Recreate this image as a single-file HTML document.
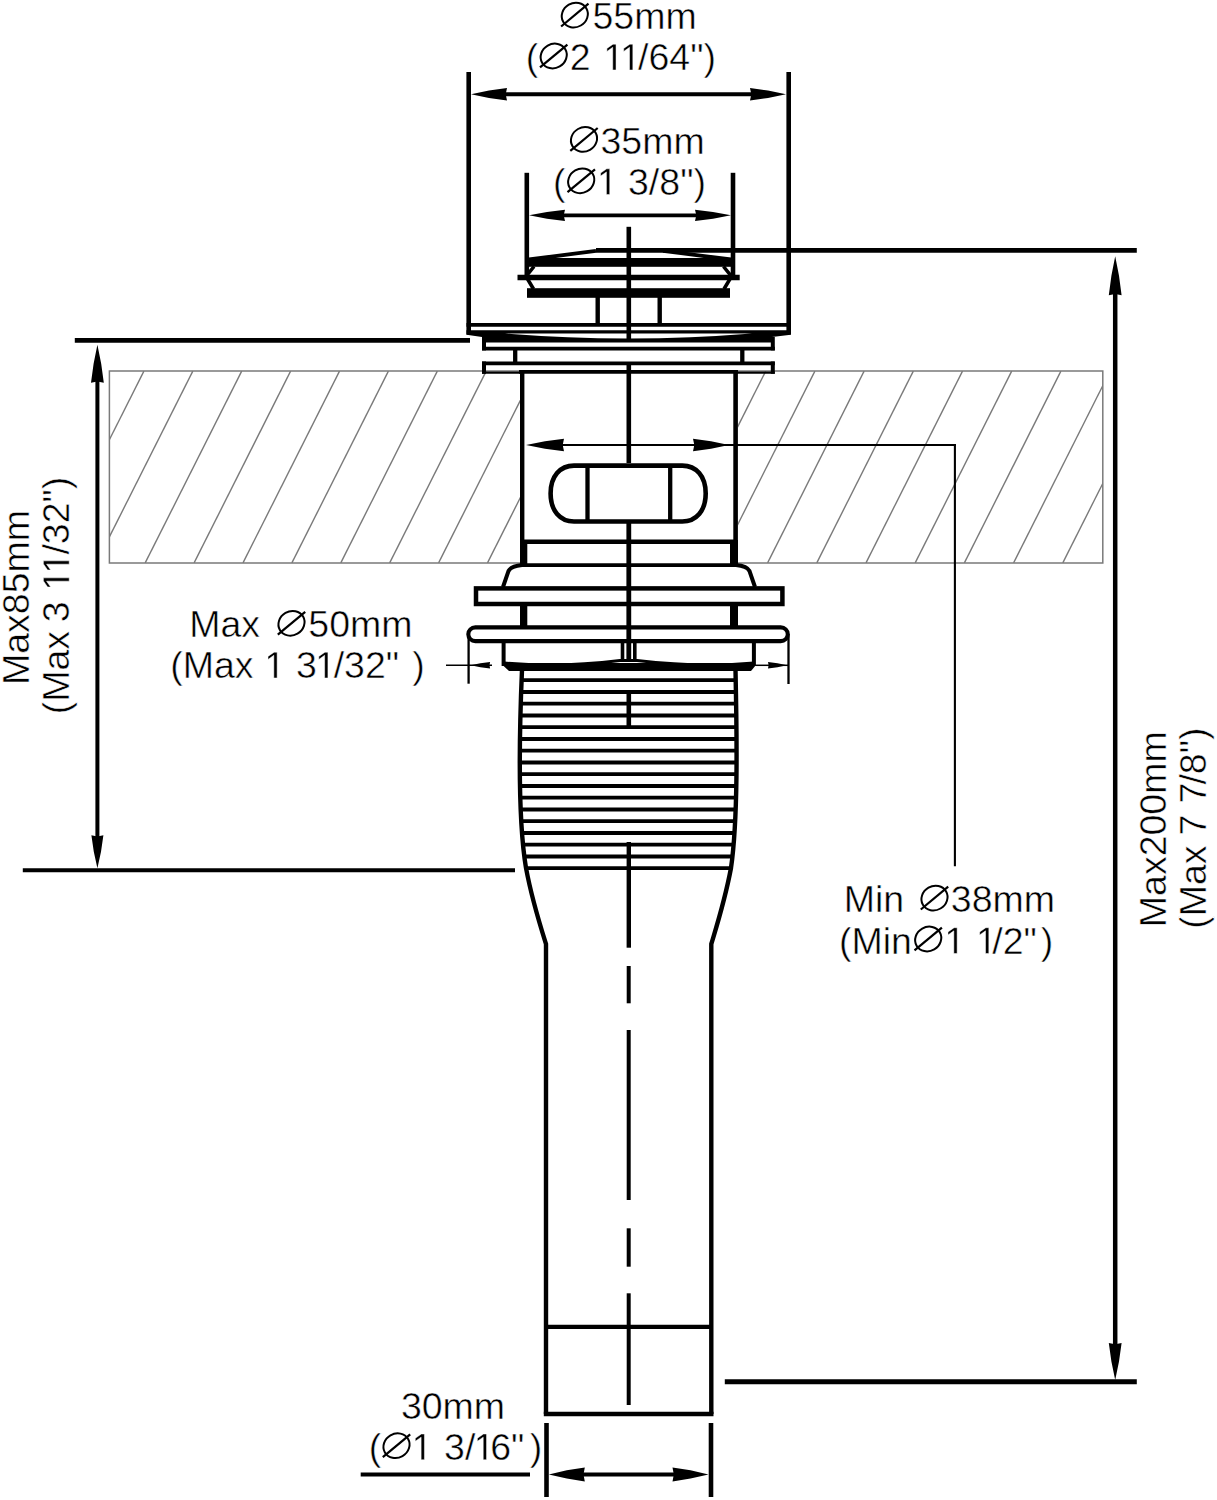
<!DOCTYPE html>
<html><head><meta charset="utf-8"><style>
html,body{margin:0;padding:0;background:#fff;}
svg{display:block;}
text{font-family:"Liberation Sans",sans-serif;fill:#000;stroke:#fff;stroke-width:0.5px;}
</style></head><body>
<svg width="1217" height="1500" viewBox="0 0 1217 1500">
<rect width="1217" height="1500" fill="#fff"/>
<g>
<clipPath id="cl"><rect x="109.4" y="371.1" width="410.6" height="191.79999999999995"/></clipPath>
<clipPath id="cr"><rect x="738" y="371.1" width="364.79999999999995" height="191.79999999999995"/></clipPath>
<g clip-path="url(#cl)"><line x1="-2.8" y1="371.1" x2="-99.3" y2="562.9" stroke="#7a7a7a" stroke-width="1.4"/><line x1="46.1" y1="371.1" x2="-50.4" y2="562.9" stroke="#7a7a7a" stroke-width="1.4"/><line x1="95.0" y1="371.1" x2="-1.5" y2="562.9" stroke="#7a7a7a" stroke-width="1.4"/><line x1="143.9" y1="371.1" x2="47.4" y2="562.9" stroke="#7a7a7a" stroke-width="1.4"/><line x1="192.8" y1="371.1" x2="96.3" y2="562.9" stroke="#7a7a7a" stroke-width="1.4"/><line x1="241.7" y1="371.1" x2="145.2" y2="562.9" stroke="#7a7a7a" stroke-width="1.4"/><line x1="290.6" y1="371.1" x2="194.1" y2="562.9" stroke="#7a7a7a" stroke-width="1.4"/><line x1="339.5" y1="371.1" x2="243.0" y2="562.9" stroke="#7a7a7a" stroke-width="1.4"/><line x1="388.4" y1="371.1" x2="291.9" y2="562.9" stroke="#7a7a7a" stroke-width="1.4"/><line x1="437.3" y1="371.1" x2="340.8" y2="562.9" stroke="#7a7a7a" stroke-width="1.4"/><line x1="486.2" y1="371.1" x2="389.7" y2="562.9" stroke="#7a7a7a" stroke-width="1.4"/><line x1="535.1" y1="371.1" x2="438.6" y2="562.9" stroke="#7a7a7a" stroke-width="1.4"/><line x1="584.0" y1="371.1" x2="487.5" y2="562.9" stroke="#7a7a7a" stroke-width="1.4"/><line x1="632.9" y1="371.1" x2="536.4" y2="562.9" stroke="#7a7a7a" stroke-width="1.4"/><line x1="681.8" y1="371.1" x2="585.3" y2="562.9" stroke="#7a7a7a" stroke-width="1.4"/></g><g clip-path="url(#cr)"><line x1="667.3" y1="371.1" x2="570.8" y2="562.9" stroke="#7a7a7a" stroke-width="1.4"/><line x1="716.5" y1="371.1" x2="620.0" y2="562.9" stroke="#7a7a7a" stroke-width="1.4"/><line x1="765.7" y1="371.1" x2="669.2" y2="562.9" stroke="#7a7a7a" stroke-width="1.4"/><line x1="814.9" y1="371.1" x2="718.4" y2="562.9" stroke="#7a7a7a" stroke-width="1.4"/><line x1="864.1" y1="371.1" x2="767.6" y2="562.9" stroke="#7a7a7a" stroke-width="1.4"/><line x1="913.3" y1="371.1" x2="816.8" y2="562.9" stroke="#7a7a7a" stroke-width="1.4"/><line x1="962.5" y1="371.1" x2="866.0" y2="562.9" stroke="#7a7a7a" stroke-width="1.4"/><line x1="1011.7" y1="371.1" x2="915.2" y2="562.9" stroke="#7a7a7a" stroke-width="1.4"/><line x1="1060.9" y1="371.1" x2="964.4" y2="562.9" stroke="#7a7a7a" stroke-width="1.4"/><line x1="1110.1" y1="371.1" x2="1013.6" y2="562.9" stroke="#7a7a7a" stroke-width="1.4"/><line x1="1159.3" y1="371.1" x2="1062.8" y2="562.9" stroke="#7a7a7a" stroke-width="1.4"/><line x1="1208.5" y1="371.1" x2="1112.0" y2="562.9" stroke="#7a7a7a" stroke-width="1.4"/></g>
<path d="M520,371.1 H109.4 V562.9 H520" stroke="#7a7a7a" stroke-width="1.5" fill="none" />
<path d="M738,371.1 H1102.8 V562.9 H738" stroke="#7a7a7a" stroke-width="1.5" fill="none" />
</g>
<line x1="468.7" y1="72.0" x2="468.7" y2="334.5" stroke="#000" stroke-width="4.6" stroke-linecap="butt"/>
<line x1="788.7" y1="72.0" x2="788.7" y2="334.5" stroke="#000" stroke-width="4.6" stroke-linecap="butt"/>
<line x1="491.0" y1="94.3" x2="766.0" y2="94.3" stroke="#000" stroke-width="4" stroke-linecap="butt"/>
<polygon points="471.0,94.3 489.0,90.6 507.0,88.1 505.7,94.3 507.0,100.5 489.0,98.0" fill="#000"/>
<polygon points="786.0,94.3 768.0,90.6 750.0,88.1 751.3,94.3 750.0,100.5 768.0,98.0" fill="#000"/>
<line x1="526.8" y1="172.8" x2="526.8" y2="276.0" stroke="#000" stroke-width="4.6" stroke-linecap="butt"/>
<line x1="733.0" y1="172.8" x2="733.0" y2="276.0" stroke="#000" stroke-width="4.6" stroke-linecap="butt"/>
<line x1="549.0" y1="215.3" x2="711.0" y2="215.3" stroke="#000" stroke-width="3.8" stroke-linecap="butt"/>
<polygon points="529.0,215.3 547.0,211.9 565.0,209.7 563.7,215.3 565.0,220.9 547.0,218.7" fill="#000"/>
<polygon points="731.0,215.3 713.0,211.9 695.0,209.7 696.3,215.3 695.0,220.9 713.0,218.7" fill="#000"/>
<line x1="596.0" y1="250.4" x2="1136.8" y2="250.4" stroke="#000" stroke-width="4.6" stroke-linecap="butt"/>
<line x1="724.8" y1="1381.8" x2="1136.8" y2="1381.8" stroke="#000" stroke-width="5" stroke-linecap="butt"/>
<line x1="1115.2" y1="276.0" x2="1115.2" y2="1360.0" stroke="#000" stroke-width="4.5" stroke-linecap="butt"/>
<polygon points="1115.2,256.3 1111.4,275.8 1108.8,295.3 1115.2,294.0 1121.6,295.3 1119.0,275.8" fill="#000"/>
<polygon points="1115.2,1380.0 1111.4,1361.5 1108.8,1343.0 1115.2,1344.3 1121.6,1343.0 1119.0,1361.5" fill="#000"/>
<line x1="74.8" y1="340.4" x2="470.0" y2="340.4" stroke="#000" stroke-width="4.6" stroke-linecap="butt"/>
<line x1="22.8" y1="870.3" x2="515.0" y2="870.3" stroke="#000" stroke-width="4" stroke-linecap="butt"/>
<line x1="97.4" y1="364.0" x2="97.4" y2="850.0" stroke="#000" stroke-width="4" stroke-linecap="butt"/>
<polygon points="97.4,344.7 93.6,363.7 91.0,382.7 97.4,381.4 103.8,382.7 101.2,363.7" fill="#000"/>
<polygon points="97.4,868.3 93.8,851.8 91.4,835.3 97.4,836.6 103.4,835.3 101.0,851.8" fill="#000"/>
<path d="M529,259.5 L596,250.8" stroke="#000" stroke-width="3.8" fill="none" />
<path d="M663,250.8 L731,259.5" stroke="#000" stroke-width="3.8" fill="none" />
<rect x="529.0" y="258.0" width="202.0" height="8.8" fill="#000"/>
<line x1="517.5" y1="277.5" x2="739.7" y2="277.5" stroke="#000" stroke-width="5.4" stroke-linecap="butt"/>
<path d="M534,266.5 L526,276.5 L533.5,289" stroke="#000" stroke-width="3.6" fill="none" />
<path d="M723.5,266.5 L731.5,276.5 L724,289" stroke="#000" stroke-width="3.6" fill="none" />
<rect x="527.0" y="288.2" width="203.0" height="9.6" fill="#000"/>
<line x1="597.7" y1="297.0" x2="597.7" y2="324.0" stroke="#000" stroke-width="4.4" stroke-linecap="butt"/>
<line x1="659.7" y1="297.0" x2="659.7" y2="324.0" stroke="#000" stroke-width="4.4" stroke-linecap="butt"/>
<line x1="466.5" y1="324.8" x2="790.8" y2="324.8" stroke="#000" stroke-width="3.7" stroke-linecap="butt"/>
<polygon points="466.5,330.3 790.8,330.3 790.8,334.8 772.0,337.0 772.0,342.6 482.0,342.6 482.0,337.0 466.5,334.8" fill="#000"/>
<path d="M505,333.6 L752,333.6 Q628,343.5 505,333.6 Z" stroke="#000" stroke-width="0" fill="#fff" />
<line x1="484.0" y1="337.0" x2="484.0" y2="350.4" stroke="#000" stroke-width="4" stroke-linecap="butt"/>
<line x1="772.8" y1="337.0" x2="772.8" y2="350.4" stroke="#000" stroke-width="4" stroke-linecap="butt"/>
<line x1="482.0" y1="348.6" x2="774.8" y2="348.6" stroke="#000" stroke-width="3.7" stroke-linecap="butt"/>
<line x1="515.2" y1="350.0" x2="515.2" y2="362.0" stroke="#000" stroke-width="4.3" stroke-linecap="butt"/>
<line x1="742.3" y1="350.0" x2="742.3" y2="362.0" stroke="#000" stroke-width="4.3" stroke-linecap="butt"/>
<line x1="482.0" y1="363.4" x2="774.8" y2="363.4" stroke="#000" stroke-width="3.7" stroke-linecap="butt"/>
<line x1="484.0" y1="361.5" x2="484.0" y2="373.8" stroke="#000" stroke-width="4" stroke-linecap="butt"/>
<line x1="772.8" y1="361.5" x2="772.8" y2="373.8" stroke="#000" stroke-width="4" stroke-linecap="butt"/>
<line x1="482.0" y1="372.6" x2="520.0" y2="372.6" stroke="#000" stroke-width="2.2" stroke-linecap="butt"/>
<line x1="736.0" y1="372.6" x2="774.8" y2="372.6" stroke="#000" stroke-width="2.2" stroke-linecap="butt"/>
<line x1="519.0" y1="371.9" x2="738.0" y2="371.9" stroke="#000" stroke-width="3.8" stroke-linecap="butt"/>
<line x1="522.2" y1="370.0" x2="522.2" y2="544.0" stroke="#000" stroke-width="4.4" stroke-linecap="butt"/>
<line x1="735.6" y1="370.0" x2="735.6" y2="544.0" stroke="#000" stroke-width="4.6" stroke-linecap="butt"/>
<rect x="520.0" y="540.0" width="7.3" height="25.0" fill="#000"/>
<rect x="730.0" y="540.0" width="8.0" height="25.0" fill="#000"/>
<line x1="546.0" y1="445.0" x2="955.9" y2="445.0" stroke="#000" stroke-width="2" stroke-linecap="butt"/>
<polygon points="526.0,445.0 545.0,441.3 564.0,438.8 562.7,445.0 564.0,451.2 545.0,448.7" fill="#000"/>
<polygon points="729.0,445.0 711.0,441.3 693.0,438.8 694.3,445.0 693.0,451.2 711.0,448.7" fill="#000"/>
<line x1="954.9" y1="444.0" x2="954.9" y2="866.2" stroke="#000" stroke-width="2.1" stroke-linecap="butt"/>
<path d="M574,465.6 H682.3 C696.2,465.6 705.7,476.2 705.7,493.5 C705.7,510.8 696.2,521.5 682.3,521.5 H574 C560.1,521.5 550.6,510.8 550.6,493.5 C550.6,476.2 560.1,465.6 574,465.6 Z" stroke="#000" stroke-width="4.6" fill="none" />
<line x1="587.5" y1="465.0" x2="587.5" y2="521.0" stroke="#000" stroke-width="4.3" stroke-linecap="butt"/>
<line x1="670.2" y1="465.0" x2="670.2" y2="521.0" stroke="#000" stroke-width="4.3" stroke-linecap="butt"/>
<line x1="522.0" y1="541.8" x2="735.6" y2="541.8" stroke="#000" stroke-width="4.4" stroke-linecap="butt"/>
<line x1="520.0" y1="565.1" x2="738.0" y2="565.1" stroke="#000" stroke-width="3.7" stroke-linecap="butt"/>
<path d="M522,565 Q511,566 508.5,571 L503,587" stroke="#000" stroke-width="4" fill="none" />
<path d="M736,565 Q747,566 749.5,571 L755,587" stroke="#000" stroke-width="4" fill="none" />
<rect x="476" y="588.4" width="306.4" height="15.6" fill="none" stroke="#000" stroke-width="4.5"/>
<rect x="520.0" y="606.0" width="7.3" height="21.0" fill="#000"/>
<rect x="730.0" y="606.0" width="8.0" height="21.0" fill="#000"/>
<rect x="468.3" y="627.4" width="319.5" height="13.7" rx="7" ry="6.8" fill="none" stroke="#000" stroke-width="4.1"/>
<line x1="468.6" y1="634.0" x2="468.6" y2="683.7" stroke="#000" stroke-width="2.3" stroke-linecap="butt"/>
<line x1="788.5" y1="634.0" x2="788.5" y2="684.0" stroke="#000" stroke-width="2.3" stroke-linecap="butt"/>
<line x1="446.0" y1="665.3" x2="492.0" y2="665.3" stroke="#000" stroke-width="1.5" stroke-linecap="butt"/>
<line x1="756.0" y1="665.3" x2="788.0" y2="665.3" stroke="#000" stroke-width="1.5" stroke-linecap="butt"/>
<polygon points="470.7,665.3 480.4,663.3 490.1,662.0 489.5,665.3 490.1,668.6 480.4,667.3" fill="#000"/>
<polygon points="787.0,665.3 777.5,663.3 768.0,662.0 768.6,665.3 768.0,668.6 777.5,667.3" fill="#000"/>
<line x1="503.6" y1="642.0" x2="503.6" y2="666.0" stroke="#000" stroke-width="4" stroke-linecap="butt"/>
<line x1="753.9" y1="642.0" x2="753.9" y2="666.0" stroke="#000" stroke-width="4" stroke-linecap="butt"/>
<path d="M504,663 Q560,668 620,660.5 L637,660.5 Q700,668 754,663" stroke="#000" stroke-width="3" fill="none" />
<polygon points="503.6,663.0 754.0,663.0 756.0,665.0 751.0,671.0 509.0,671.0 503.6,666.0" fill="#000"/>
<line x1="622.5" y1="642.0" x2="622.5" y2="662.0" stroke="#000" stroke-width="3.6" stroke-linecap="butt"/>
<line x1="634.8" y1="642.0" x2="634.8" y2="662.0" stroke="#000" stroke-width="3.6" stroke-linecap="butt"/>
<line x1="628.8" y1="226.8" x2="628.8" y2="339.5" stroke="#000" stroke-width="4.6" stroke-linecap="butt"/>
<line x1="628.8" y1="362.0" x2="628.8" y2="463.0" stroke="#000" stroke-width="4.6" stroke-linecap="butt"/>
<line x1="628.8" y1="521.5" x2="628.8" y2="662.0" stroke="#000" stroke-width="4.8" stroke-linecap="butt"/>
<line x1="628.8" y1="690.0" x2="628.8" y2="726.7" stroke="#000" stroke-width="4.6" stroke-linecap="butt"/>
<line x1="628.8" y1="842.0" x2="628.8" y2="947.7" stroke="#000" stroke-width="4.4" stroke-linecap="butt"/>
<line x1="628.7" y1="966.0" x2="628.7" y2="1003.3" stroke="#000" stroke-width="4" stroke-linecap="butt"/>
<line x1="628.7" y1="1030.0" x2="628.7" y2="1200.0" stroke="#000" stroke-width="4" stroke-linecap="butt"/>
<line x1="628.7" y1="1228.3" x2="628.7" y2="1266.7" stroke="#000" stroke-width="4" stroke-linecap="butt"/>
<line x1="628.7" y1="1293.3" x2="628.7" y2="1405.0" stroke="#000" stroke-width="4" stroke-linecap="butt"/>
<path d="M522,670 C519,740 518,820 526,868 C532,900 540,925 546,944 L546,1414" stroke="#000" stroke-width="4.4" fill="none" />
<path d="M735.5,670 C737,740 738,820 731,868 C725,900 717,925 711.3,944 L711.3,1414" stroke="#000" stroke-width="4.4" fill="none" />
<line x1="521.6" y1="680.2" x2="735.7" y2="680.2" stroke="#000" stroke-width="3.8" stroke-linecap="butt"/>
<line x1="521.1" y1="692.0" x2="735.9" y2="692.0" stroke="#000" stroke-width="3.8" stroke-linecap="butt"/>
<line x1="520.7" y1="703.7" x2="736.2" y2="703.7" stroke="#000" stroke-width="3.8" stroke-linecap="butt"/>
<line x1="520.4" y1="715.5" x2="736.3" y2="715.5" stroke="#000" stroke-width="3.8" stroke-linecap="butt"/>
<line x1="520.2" y1="727.2" x2="736.4" y2="727.2" stroke="#000" stroke-width="3.8" stroke-linecap="butt"/>
<line x1="520.0" y1="739.0" x2="736.5" y2="739.0" stroke="#000" stroke-width="3.8" stroke-linecap="butt"/>
<line x1="519.8" y1="750.7" x2="736.6" y2="750.7" stroke="#000" stroke-width="3.8" stroke-linecap="butt"/>
<line x1="519.8" y1="762.5" x2="736.6" y2="762.5" stroke="#000" stroke-width="3.8" stroke-linecap="butt"/>
<line x1="519.8" y1="774.2" x2="736.5" y2="774.2" stroke="#000" stroke-width="3.8" stroke-linecap="butt"/>
<line x1="520.0" y1="786.0" x2="736.3" y2="786.0" stroke="#000" stroke-width="3.8" stroke-linecap="butt"/>
<line x1="520.3" y1="797.7" x2="736.0" y2="797.7" stroke="#000" stroke-width="3.8" stroke-linecap="butt"/>
<line x1="520.7" y1="809.5" x2="735.7" y2="809.5" stroke="#000" stroke-width="3.8" stroke-linecap="butt"/>
<line x1="521.2" y1="821.2" x2="735.2" y2="821.2" stroke="#000" stroke-width="3.8" stroke-linecap="butt"/>
<line x1="522.0" y1="833.0" x2="734.5" y2="833.0" stroke="#000" stroke-width="3.8" stroke-linecap="butt"/>
<line x1="523.0" y1="844.7" x2="733.6" y2="844.7" stroke="#000" stroke-width="3.8" stroke-linecap="butt"/>
<line x1="524.3" y1="856.5" x2="732.4" y2="856.5" stroke="#000" stroke-width="3.8" stroke-linecap="butt"/>
<line x1="526.0" y1="868.2" x2="731.0" y2="868.2" stroke="#000" stroke-width="3.8" stroke-linecap="butt"/>
<line x1="546.0" y1="1326.8" x2="711.3" y2="1326.8" stroke="#000" stroke-width="4.2" stroke-linecap="butt"/>
<line x1="543.8" y1="1414.0" x2="713.5" y2="1414.0" stroke="#000" stroke-width="4.6" stroke-linecap="butt"/>
<line x1="546.5" y1="1423.0" x2="546.5" y2="1497.0" stroke="#000" stroke-width="4.6" stroke-linecap="butt"/>
<line x1="711.0" y1="1423.0" x2="711.0" y2="1497.0" stroke="#000" stroke-width="4.6" stroke-linecap="butt"/>
<line x1="360.7" y1="1474.4" x2="530.0" y2="1474.4" stroke="#000" stroke-width="4" stroke-linecap="butt"/>
<line x1="568.0" y1="1474.4" x2="690.0" y2="1474.4" stroke="#000" stroke-width="4" stroke-linecap="butt"/>
<polygon points="548.8,1474.4 566.8,1470.2 584.8,1467.4 583.5,1474.4 584.8,1481.4 566.8,1478.6" fill="#000"/>
<polygon points="708.5,1474.4 690.5,1470.2 672.5,1467.4 673.8,1474.4 672.5,1481.4 690.5,1478.6" fill="#000"/>
<ellipse cx="574.8" cy="15.1" rx="13.4" ry="12.0" transform="rotate(-30 574.8 15.1)" fill="none" stroke="#000" stroke-width="2.0"/>
<line x1="561.1" y1="26.5" x2="588.5" y2="3.7" stroke="#000" stroke-width="2.2" stroke-linecap="butt"/>
<ellipse cx="553.7" cy="56.0" rx="13.4" ry="12.0" transform="rotate(-30 553.7 56.0)" fill="none" stroke="#000" stroke-width="2.0"/>
<line x1="540.0" y1="67.4" x2="567.4" y2="44.6" stroke="#000" stroke-width="2.2" stroke-linecap="butt"/>
<ellipse cx="584.0" cy="139.4" rx="13.4" ry="12.0" transform="rotate(-30 584.0 139.4)" fill="none" stroke="#000" stroke-width="2.0"/>
<line x1="570.3" y1="150.8" x2="597.7" y2="128.0" stroke="#000" stroke-width="2.2" stroke-linecap="butt"/>
<ellipse cx="581.2" cy="180.8" rx="13.4" ry="12.0" transform="rotate(-30 581.2 180.8)" fill="none" stroke="#000" stroke-width="2.0"/>
<line x1="567.5" y1="192.2" x2="595.0" y2="169.3" stroke="#000" stroke-width="2.2" stroke-linecap="butt"/>
<ellipse cx="291.5" cy="623.3" rx="13.4" ry="12.0" transform="rotate(-30 291.5 623.3)" fill="none" stroke="#000" stroke-width="2.0"/>
<line x1="277.8" y1="634.7" x2="305.2" y2="611.9" stroke="#000" stroke-width="2.2" stroke-linecap="butt"/>
<ellipse cx="934.5" cy="898.1" rx="13.4" ry="12.0" transform="rotate(-30 934.5 898.1)" fill="none" stroke="#000" stroke-width="2.0"/>
<line x1="920.8" y1="909.5" x2="948.2" y2="886.7" stroke="#000" stroke-width="2.2" stroke-linecap="butt"/>
<ellipse cx="928.2" cy="939.0" rx="13.4" ry="12.0" transform="rotate(-30 928.2 939.0)" fill="none" stroke="#000" stroke-width="2.0"/>
<line x1="914.5" y1="950.4" x2="941.9" y2="927.6" stroke="#000" stroke-width="2.2" stroke-linecap="butt"/>
<ellipse cx="396.5" cy="1445.7" rx="13.4" ry="12.0" transform="rotate(-30 396.5 1445.7)" fill="none" stroke="#000" stroke-width="2.0"/>
<line x1="382.8" y1="1457.1" x2="410.2" y2="1434.3" stroke="#000" stroke-width="2.2" stroke-linecap="butt"/>
<text x="592.50" y="29.00" font-size="37.5">55mm</text>
<text x="525.75" y="70.00" font-size="37.5">(</text>
<text x="569.80" y="70.00" font-size="37.5">2</text>
<path d="M515,0L515,1237L197,1010L197,1180L530,1409L696,1409L696,0Z" transform="translate(603.29 70.00) scale(0.01831 -0.01831)" fill="#000" stroke="#fff" stroke-width="0.5" vector-effect="non-scaling-stroke"/>
<path d="M515,0L515,1237L197,1010L197,1180L530,1409L696,1409L696,0Z" transform="translate(620.09 70.00) scale(0.01831 -0.01831)" fill="#000" stroke="#fff" stroke-width="0.5" vector-effect="non-scaling-stroke"/>
<text x="638.00" y="70.00" font-size="37.5">/64&quot;)</text>
<text x="600.50" y="154.00" font-size="37.5">35mm</text>
<text x="553.05" y="194.60" font-size="37.5">(</text>
<path d="M515,0L515,1237L197,1010L197,1180L530,1409L696,1409L696,0Z" transform="translate(596.99 194.60) scale(0.01831 -0.01831)" fill="#000" stroke="#fff" stroke-width="0.5" vector-effect="non-scaling-stroke"/>
<text x="628.00" y="194.60" font-size="37.5">3/8&quot;)</text>
<text x="189.20" y="637.30" font-size="37.5">Max</text>
<text x="308.30" y="637.30" font-size="37.5">50mm</text>
<text x="170.25" y="678.00" font-size="37.5">(Max</text>
<path d="M515,0L515,1237L197,1010L197,1180L530,1409L696,1409L696,0Z" transform="translate(264.39 678.00) scale(0.01831 -0.01831)" fill="#000" stroke="#fff" stroke-width="0.5" vector-effect="non-scaling-stroke"/>
<text x="296.00" y="678.00" font-size="37.5">3</text>
<path d="M515,0L515,1237L197,1010L197,1180L530,1409L696,1409L696,0Z" transform="translate(315.19 678.00) scale(0.01831 -0.01831)" fill="#000" stroke="#fff" stroke-width="0.5" vector-effect="non-scaling-stroke"/>
<text x="333.70" y="678.00" font-size="37.5">/32&quot;</text>
<text x="412.35" y="678.00" font-size="37.5">)</text>
<text x="843.80" y="912.00" font-size="37.5">Min</text>
<text x="950.80" y="912.00" font-size="37.5">38mm</text>
<text x="839.05" y="953.50" font-size="37.5">(Min</text>
<path d="M515,0L515,1237L197,1010L197,1180L530,1409L696,1409L696,0Z" transform="translate(944.39 953.50) scale(0.01831 -0.01831)" fill="#000" stroke="#fff" stroke-width="0.5" vector-effect="non-scaling-stroke"/>
<path d="M515,0L515,1237L197,1010L197,1180L530,1409L696,1409L696,0Z" transform="translate(976.09 953.50) scale(0.01831 -0.01831)" fill="#000" stroke="#fff" stroke-width="0.5" vector-effect="non-scaling-stroke"/>
<text x="992.30" y="953.50" font-size="37.5">/2&quot;</text>
<text x="1040.85" y="953.50" font-size="37.5">)</text>
<text x="400.90" y="1419.30" font-size="37.5">30mm</text>
<text x="368.65" y="1459.80" font-size="37.5">(</text>
<path d="M515,0L515,1237L197,1010L197,1180L530,1409L696,1409L696,0Z" transform="translate(411.69 1459.80) scale(0.01831 -0.01831)" fill="#000" stroke="#fff" stroke-width="0.5" vector-effect="non-scaling-stroke"/>
<text x="444.10" y="1459.80" font-size="37.5">3/</text>
<path d="M515,0L515,1237L197,1010L197,1180L530,1409L696,1409L696,0Z" transform="translate(473.79 1459.80) scale(0.01831 -0.01831)" fill="#000" stroke="#fff" stroke-width="0.5" vector-effect="non-scaling-stroke"/>
<text x="490.20" y="1459.80" font-size="37.5">6&quot;</text>
<text x="529.75" y="1459.80" font-size="37.5">)</text>
<text transform="translate(28.75 685.00) rotate(-90)" font-size="37.5">Max85mm</text>
<text transform="translate(69.20 714.25) rotate(-90)" font-size="37.5">(Max</text>
<text transform="translate(69.20 622.30) rotate(-90)" font-size="37.5">3</text>
<path d="M515,0L515,1237L197,1010L197,1180L530,1409L696,1409L696,0Z" transform="translate(69.20 590.61) rotate(-90) scale(0.01831 -0.01831)" fill="#000" stroke="#fff" stroke-width="0.5" vector-effect="non-scaling-stroke"/>
<path d="M515,0L515,1237L197,1010L197,1180L530,1409L696,1409L696,0Z" transform="translate(69.20 573.61) rotate(-90) scale(0.01831 -0.01831)" fill="#000" stroke="#fff" stroke-width="0.5" vector-effect="non-scaling-stroke"/>
<text transform="translate(69.20 554.60) rotate(-90)" font-size="37.5">/32&quot;)</text>
<text transform="translate(1165.60 927.20) rotate(-90)" font-size="37.5">Max200mm</text>
<text transform="translate(1206.20 928.75) rotate(-90)" font-size="37.5">(Max</text>
<text transform="translate(1206.20 835.40) rotate(-90)" font-size="37.5">7</text>
<text transform="translate(1206.20 803.40) rotate(-90)" font-size="37.5">7</text>
<text transform="translate(1206.20 784.60) rotate(-90)" font-size="37.5">/8&quot;)</text>
</svg></body></html>
